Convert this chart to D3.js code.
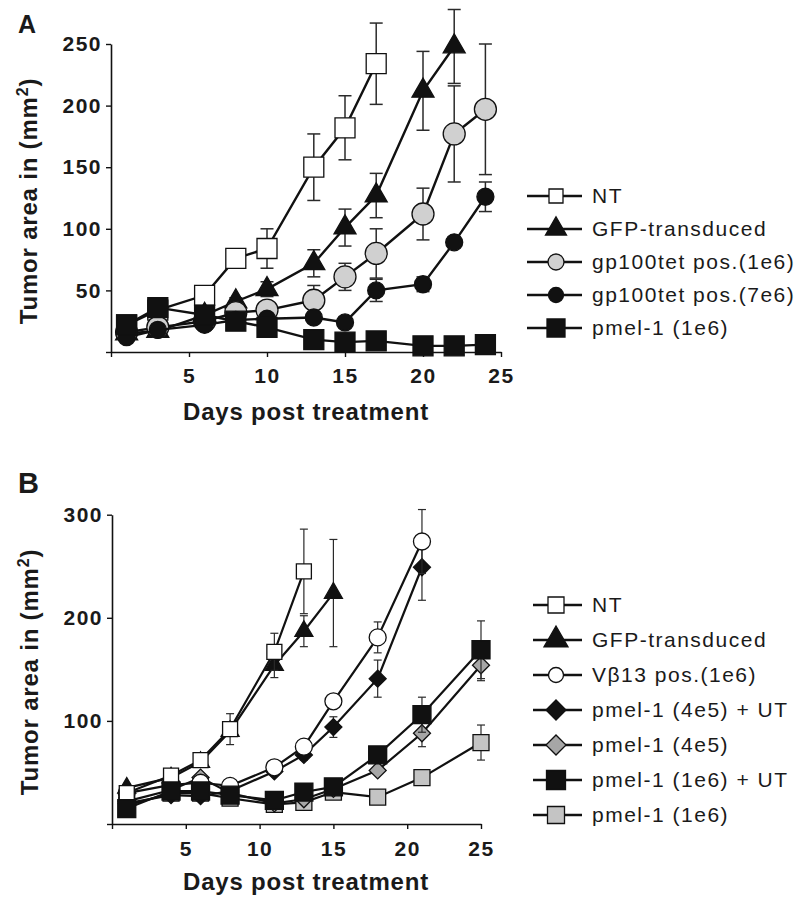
<!DOCTYPE html>
<html><head><meta charset="utf-8">
<script src="https://cdn.jsdelivr.net/npm/d3@7"></script>
<style>body{margin:0;background:#fff} svg{display:block}</style>
</head><body>
<svg id="c" width="800" height="903"></svg>
<script>
// ---------- DATA: Panel A ----------
const xTicks = [0, 5, 10, 15, 20, 25];
const yTicksA = [0, 50, 100, 150, 200, 250];
const yTicksB = [0, 100, 200, 300];

const labelsA = ["NT", "GFP-transduced", "gp100tet pos.(1e6)", "gp100tet pos.(7e6)", "pmel-1 (1e6)"];
const daysA_NT  = [1, 3, 6, 8, 10, 13, 15, 17];
const valsA_NT  = [22, 34, 46, 76, 84, 150, 182, 234];
const errA_NT   = [0, 0, 0, 4, 16, 27, 26, 33];
const daysA_GFP = [1, 3, 6, 8, 10, 13, 15, 17, 20, 22];
const valsA_GFP = [15, 17, 30, 41, 51, 72, 101, 127, 212, 248];
const errA_GFP  = [0, 0, 0, 3, 6, 11, 15, 18, 32, 30];
const daysA_G1  = [1, 3, 6, 8, 10, 13, 15, 17, 20, 22, 24];
const valsA_G1  = [16, 20, 25, 32, 34, 42, 61, 80, 112, 177, 197];
const errA_G1   = [0, 0, 0, 0, 0, 12, 11, 20, 21, 39, 53];
const daysA_G7  = [1, 3, 6, 8, 10, 13, 15, 17, 20, 22, 24];
const valsA_G7  = [12, 18, 22, 26, 27, 28, 24, 50, 55, 89, 126];
const errA_G7   = [0, 0, 0, 0, 0, 0, 0, 9, 6, 0, 12];
const daysA_PM  = [1, 3, 6, 8, 10, 13, 15, 17, 20, 22, 24];
const valsA_PM  = [22, 36, 30, 25, 20, 10, 8, 9, 5, 5, 6];
const errA_PM   = [0, 0, 0, 0, 0, 0, 0, 0, 0, 0, 0];

// ---------- DATA: Panel B ----------
const labelsB = ["NT", "GFP-transduced", "V\u03B213 pos.(1e6)", "pmel-1 (4e5) + UT", "pmel-1 (4e5)", "pmel-1 (1e6) + UT", "pmel-1 (1e6)"];
const daysB_NT  = [1, 4, 6, 8, 11, 13];
const valsB_NT  = [30, 47, 62, 92, 167, 245];
const errB_NT   = [0, 0, 6, 15, 18, 41];
const daysB_GFP = [1, 4, 6, 8, 11, 13, 15];
const valsB_GFP = [35, 45, 60, 90, 154, 187, 224];
const errB_GFP  = [3, 0, 0, 0, 12, 15, 52];
const daysB_VB  = [1, 4, 6, 8, 11, 13, 15, 18, 21];
const valsB_VB  = [30, 38, 40, 37, 55, 75, 119, 181, 274];
const errB_VB   = [0, 0, 0, 0, 0, 0, 0, 15, 31];
const daysB_D4U = [1, 4, 6, 8, 11, 13, 15, 18, 21];
const valsB_D4U = [20, 28, 27, 32, 51, 67, 94, 141, 249];
const errB_D4U  = [0, 0, 0, 0, 0, 5, 10, 18, 32];
const daysB_D4  = [1, 4, 6, 8, 11, 13, 15, 18, 21, 25];
const valsB_D4  = [22, 33, 45, 30, 20, 24, 34, 52, 88, 154];
const errB_D4   = [0, 0, 0, 0, 0, 0, 0, 0, 13, 15];
const daysB_S6U = [1, 4, 6, 8, 11, 13, 15, 18, 21, 25];
const valsB_S6U = [15, 32, 32, 28, 23, 31, 36, 67, 106, 169];
const errB_S6U  = [0, 0, 0, 0, 0, 0, 0, 0, 17, 28];
const daysB_S6  = [1, 4, 6, 8, 11, 13, 15, 18, 21, 25];
const valsB_S6  = [18, 30, 30, 25, 19, 21, 31, 26, 45, 79];
const errB_S6   = [0, 0, 0, 0, 0, 0, 0, 0, 7, 17];

// ---------- DRAWING ----------
const svg = d3.select("#c");
const FONT = "'Liberation Sans', Arial, Helvetica, sans-serif";

function symPath(shape, s) {
  if (shape === "square") return d3.symbol().type(d3.symbolSquare).size(s * s)();
  if (shape === "diamond") return d3.symbol().type(d3.symbolSquare).size(2 * s * s)();
  if (shape === "circle") return d3.symbol().type(d3.symbolCircle).size(Math.PI * s * s)();
  if (shape === "triangle") { const yy = s / (2 * Math.sqrt(3)); return d3.symbol().type(d3.symbolTriangle).size(yy * yy * 3 * Math.sqrt(3))(); }
}
function placeMarker(sel, st, size) {
  sel.append("path")
    .attr("d", symPath(st.shape, size))
    .attr("transform", st.shape === "diamond" ? "rotate(45)" : null)
    .attr("fill", st.fill).attr("stroke", "#111").attr("stroke-width", 1.3);
}

function drawPanel(cfg) {
  const x = d3.scaleLinear().domain([0, 25]).range(cfg.xr);
  const y = d3.scaleLinear().domain([0, cfg.ymax]).range(cfg.yr);
  const g = svg.append("g");

  const xa = d3.axisBottom(x).tickValues(xTicks).tickSize(5).tickSizeOuter(0)
    .tickPadding(cfg.xpad).tickFormat(d => d === 0 ? "" : d);
  const ya = d3.axisLeft(y).tickValues(cfg.yTicks).tickSize(5).tickSizeOuter(0)
    .tickPadding(4).tickFormat(d => d === 0 ? "" : d);
  const gx = g.append("g").attr("transform", `translate(0,${cfg.yr[0]})`).call(xa);
  const gy = g.append("g").attr("transform", `translate(${cfg.xr[0]},0)`).call(ya);
  [gx, gy].forEach(a => {
    a.selectAll("path.domain").attr("stroke", "#111").attr("stroke-width", 1.6);
    a.selectAll(".tick line").attr("stroke", "#111").attr("stroke-width", 1.4);
    a.selectAll("text").attr("font-family", FONT).attr("font-weight", "bold")
      .attr("font-size", 21).attr("letter-spacing", "1.5px").attr("fill", "#1a1a1a");
  });

  // titles
  g.append("text").attr("x", 18).attr("y", cfg.labY).text(cfg.panel)
    .attr("font-family", FONT).attr("font-weight", "bold").attr("font-size", cfg.labSize).attr("fill", "#1a1a1a");
  g.append("text").attr("x", 306).attr("y", cfg.xtY).attr("text-anchor", "middle")
    .attr("font-family", FONT).attr("font-weight", "bold").attr("font-size", 24)
    .attr("letter-spacing", "0.8px").attr("fill", "#1a1a1a").text("Days post treatment");
  const yt = g.append("text").attr("transform", `translate(${cfg.ytX},${cfg.ytY}) rotate(-90)`)
    .attr("text-anchor", "middle").attr("font-family", FONT).attr("font-weight", "bold")
    .attr("font-size", 24).attr("letter-spacing", "0.8px").attr("fill", "#1a1a1a");
  yt.append("tspan").text("Tumor area in (mm");
  yt.append("tspan").attr("dy", -9).attr("font-size", 16).text("2");
  yt.append("tspan").attr("dy", 9).text(")");

  const line = d3.line().x(d => x(d.day)).y(d => y(d.v));
  const order = cfg.drawOrder || cfg.series.map((_, i) => i);
  order.forEach(i => {
    const s = cfg.series[i];
    const data = s.days.map((d, j) => ({ day: d, v: s.vals[j], e: s.err[j] }));
    const sg = g.append("g");
    sg.append("path").datum(data).attr("d", line).attr("fill", "none")
      .attr("stroke", "#111").attr("stroke-width", cfg.lw);
    data.filter(d => d.e > 0).forEach(d => {
      const eg = sg.append("g").attr("stroke", "#2a2a2a").attr("stroke-width", cfg.ew);
      eg.append("line").attr("x1", x(d.day)).attr("x2", x(d.day)).attr("y1", y(d.v - d.e)).attr("y2", y(d.v + d.e));
      [d.v - d.e, d.v + d.e].forEach(v => eg.append("line")
        .attr("x1", x(d.day) - cfg.cap / 2).attr("x2", x(d.day) + cfg.cap / 2).attr("y1", y(v)).attr("y2", y(v)));
    });
    data.forEach(d => {
      const m = sg.append("g").attr("transform", `translate(${x(d.day)},${y(d.v)})`);
      placeMarker(m, s.st, s.st.size);
    });
  });

  // legend
  cfg.series.forEach((s, i) => {
    const ly = cfg.legY0 + i * cfg.legStep;
    const lg = svg.append("g");
    lg.append("line").attr("x1", cfg.legX1).attr("x2", 582).attr("y1", ly).attr("y2", ly)
      .attr("stroke", "#111").attr("stroke-width", 2.6);
    const m = lg.append("g").attr("transform", `translate(556,${ly})`);
    placeMarker(m, s.st, s.st.lsize);
    lg.append("text").attr("x", 592).attr("y", ly).attr("dy", "0.35em").text(s.label)
      .attr("font-family", FONT).attr("font-size", 21).attr("letter-spacing", "1.5px").attr("fill", "#1a1a1a");
  });
}

const LIGHT = "#d0d0d0", MID = "#a6a6a6", LIGHTSQ = "#c4c4c4";

drawPanel({
  panel: "A", labY: 33, labSize: 25,
  xr: [111, 501], yr: [352, 44], ymax: 250, yTicks: yTicksA, xpad: 11,
  xtY: 420, ytX: 37, ytY: 201, lw: 2.4, ew: 1.5, cap: 13,
  legY0: 196, legStep: 33, legX1: 527,
  series: [
    { label: labelsA[0], days: daysA_NT, vals: valsA_NT, err: errA_NT, st: { shape: "square", fill: "#fff", size: 20, lsize: 14 } },
    { label: labelsA[1], days: daysA_GFP, vals: valsA_GFP, err: errA_GFP, st: { shape: "triangle", fill: "#111", size: 22, lsize: 21 } },
    { label: labelsA[2], days: daysA_G1, vals: valsA_G1, err: errA_G1, st: { shape: "circle", fill: LIGHT, size: 11, lsize: 8 } },
    { label: labelsA[3], days: daysA_G7, vals: valsA_G7, err: errA_G7, st: { shape: "circle", fill: "#111", size: 8.5, lsize: 7.5 } },
    { label: labelsA[4], days: daysA_PM, vals: valsA_PM, err: errA_PM, st: { shape: "square", fill: "#111", size: 20, lsize: 18 } }
  ]
});

drawPanel({
  panel: "B", labY: 493, labSize: 29,
  xr: [112, 481], yr: [824, 514.7], ymax: 300, yTicks: yTicksB, xpad: 12,
  xtY: 890, ytX: 38, ytY: 672, lw: 2.2, ew: 1.2, cap: 8,
  legY0: 605, legStep: 35, legX1: 533,
  drawOrder: [6, 4, 3, 2, 1, 0, 5],
  series: [
    { label: labelsB[0], days: daysB_NT, vals: valsB_NT, err: errB_NT, st: { shape: "square", fill: "#fff", size: 15, lsize: 16 } },
    { label: labelsB[1], days: daysB_GFP, vals: valsB_GFP, err: errB_GFP, st: { shape: "triangle", fill: "#111", size: 18, lsize: 24 } },
    { label: labelsB[2], days: daysB_VB, vals: valsB_VB, err: errB_VB, st: { shape: "circle", fill: "#fff", size: 8.5, lsize: 7.5 } },
    { label: labelsB[3], days: daysB_D4U, vals: valsB_D4U, err: errB_D4U, st: { shape: "diamond", fill: "#111", size: 8.5, lsize: 10 } },
    { label: labelsB[4], days: daysB_D4, vals: valsB_D4, err: errB_D4, st: { shape: "diamond", fill: MID, size: 8.5, lsize: 10 } },
    { label: labelsB[5], days: daysB_S6U, vals: valsB_S6U, err: errB_S6U, st: { shape: "square", fill: "#111", size: 18, lsize: 19 } },
    { label: labelsB[6], days: daysB_S6, vals: valsB_S6, err: errB_S6, st: { shape: "square", fill: LIGHTSQ, size: 16, lsize: 17 } }
  ]
});
</script>
</body></html>
